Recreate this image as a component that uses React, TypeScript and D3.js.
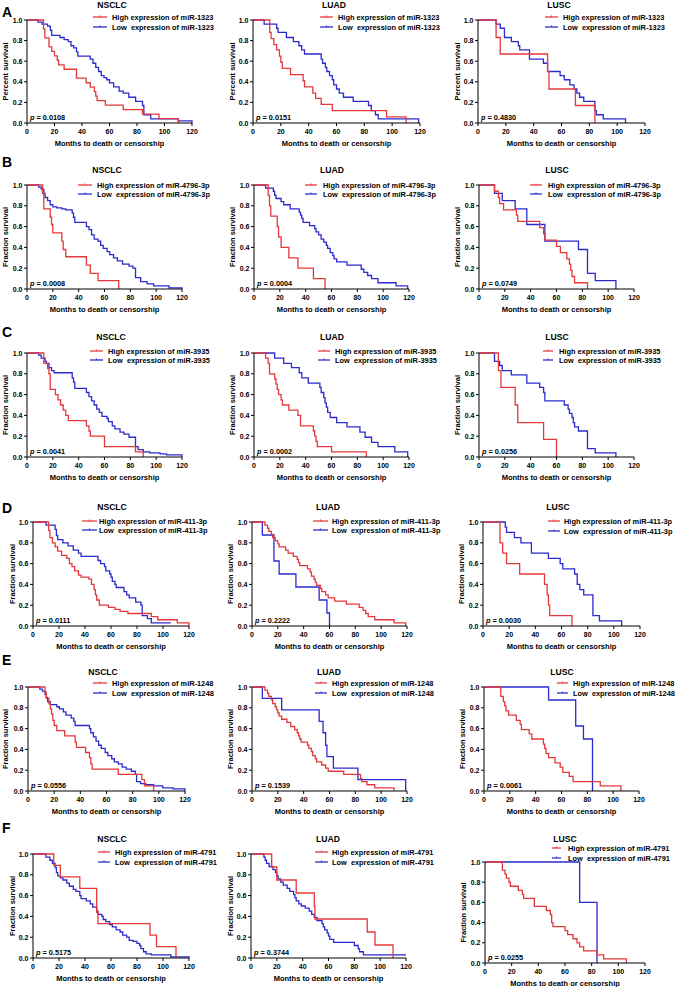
import React from 'react';
import * as d3 from 'd3';

type Pt = [number, number];

const cohorts = ['NSCLC', 'LUAD', 'LUSC'];
const rowLetters = ['A', 'B', 'C', 'D', 'E', 'F'];
const mirNames = ['miR-1323', 'miR-4796-3p', 'miR-3935', 'miR-411-3p', 'miR-1248', 'miR-4791'];
const pValues = [
  ['0.0108', '0.0151', '0.4830'],
  ['0.0008', '0.0004', '0.0749'],
  ['0.0041', '0.0002', '0.0256'],
  ['0.0111', '0.2222', '0.0030'],
  ['0.0556', '0.1539', '0.0061'],
  ['0.5175', '0.3744', '0.0255'],
];
const yAxisTitles = ['Percent survival', 'Fraction survival', 'Fraction survival', 'Fraction survival', 'Fraction survival', 'Fraction survival'];
const xAxisTitle = 'Months to death or censorship';
const xTicks = [0, 20, 40, 60, 80, 100, 120];
const yTicks = [0, 0.2, 0.4, 0.6, 0.8, 1.0];

// [month, survival after step]
const A_NSCLC_high: Pt[] = [[12,0.913],[13,0.826],[16,0.739],[18,0.696],[20,0.652],[22,0.609],[23,0.565],[27,0.522],[36,0.435],[43,0.391],[46,0.348],[49,0.304],[50,0.261],[51,0.217],[57,0.174],[70,0.13],[84,0.087],[96,0.043],[110,0]];
const A_NSCLC_low: Pt[] = [[8,0.98],[11,0.96],[15,0.94],[17,0.9],[18,0.85],[24,0.83],[27,0.81],[30,0.79],[32,0.75],[34,0.73],[36,0.69],[37,0.65],[46,0.62],[48,0.58],[50,0.54],[52,0.5],[54,0.46],[56,0.44],[58,0.42],[60,0.39],[63,0.35],[67,0.31],[70,0.29],[74,0.25],[79,0.21],[84,0.17],[85,0.08],[90,0.04],[110,0.02],[120,0]];
const A_LUAD_high: Pt[] = [[12,0.88],[13,0.82],[15,0.76],[17,0.71],[19,0.65],[20,0.59],[21,0.53],[27,0.47],[36,0.41],[37,0.35],[43,0.29],[45,0.24],[49,0.18],[57,0.12],[96,0.06],[110,0]];
const A_LUAD_low: Pt[] = [[8,0.96],[17,0.92],[18,0.88],[24,0.83],[29,0.79],[33,0.75],[35,0.71],[37,0.67],[49,0.62],[50,0.58],[52,0.54],[53,0.5],[55,0.46],[57,0.42],[58,0.37],[60,0.33],[62,0.29],[65,0.25],[72,0.21],[83,0.17],[85,0.12],[88,0.08],[90,0.04],[119,0]];
const A_LUSC_high: Pt[] = [[13,0.83],[16,0.67],[50,0.5],[51,0.33],[70,0.17],[84,0]];
const A_LUSC_low: Pt[] = [[13,0.96],[16,0.92],[19,0.83],[24,0.79],[29,0.75],[30,0.71],[37,0.62],[47,0.58],[50,0.5],[59,0.46],[62,0.42],[66,0.37],[69,0.33],[71,0.29],[73,0.25],[76,0.21],[84,0.12],[85,0.08],[90,0.04],[106,0]];

const B_NSCLC_high: Pt[] = [[12,0.92],[13,0.77],[18,0.69],[19,0.62],[20,0.54],[27,0.46],[28,0.38],[30,0.31],[46,0.23],[49,0.15],[55,0.08],[71,0]];
const B_NSCLC_low: Pt[] = [[9,0.98],[11,0.96],[13,0.92],[14,0.88],[16,0.85],[18,0.81],[20,0.79],[23,0.78],[27,0.77],[30,0.76],[35,0.73],[36,0.69],[37,0.64],[46,0.6],[48,0.57],[50,0.52],[52,0.48],[55,0.46],[57,0.42],[59,0.39],[62,0.36],[64,0.33],[67,0.3],[70,0.27],[74,0.24],[79,0.22],[82,0.2],[84,0.11],[88,0.07],[93,0.05],[98,0.03],[110,0.01],[120,0]];
const B_LUAD_high: Pt[] = [[11,0.9],[12,0.8],[13,0.7],[18,0.6],[19,0.5],[21,0.4],[27,0.3],[34,0.2],[46,0.1],[55,0]];
const B_LUAD_low: Pt[] = [[9,0.97],[15,0.94],[16,0.9],[17,0.87],[21,0.84],[23,0.81],[28,0.77],[35,0.74],[36,0.71],[37,0.68],[38,0.64],[43,0.61],[47,0.58],[48,0.55],[50,0.52],[52,0.48],[54,0.45],[56,0.42],[57,0.39],[59,0.35],[61,0.32],[62,0.29],[64,0.26],[72,0.23],[83,0.19],[85,0.16],[88,0.13],[91,0.1],[96,0.06],[110,0.03],[119,0]];
const B_LUSC_high: Pt[] = [[12,0.94],[15,0.88],[16,0.82],[19,0.76],[29,0.71],[30,0.65],[47,0.59],[50,0.53],[51,0.47],[60,0.41],[63,0.35],[68,0.29],[70,0.24],[71,0.18],[72,0.12],[74,0.06],[84,0]];
const B_LUSC_low: Pt[] = [[12,0.92],[18,0.85],[28,0.77],[37,0.62],[51,0.46],[77,0.38],[84,0.15],[90,0.08],[106,0]];

const C_NSCLC_high: Pt[] = [[13,0.9],[16,0.85],[17,0.8],[18,0.65],[22,0.6],[24,0.55],[26,0.5],[28,0.45],[30,0.4],[32,0.35],[46,0.3],[48,0.25],[49,0.2],[60,0.1],[84,0.05],[90,0]];
const C_NSCLC_low: Pt[] = [[9,0.98],[11,0.95],[14,0.92],[15,0.9],[17,0.86],[19,0.83],[21,0.81],[35,0.76],[36,0.72],[37,0.66],[46,0.62],[48,0.58],[50,0.54],[52,0.5],[54,0.46],[56,0.43],[58,0.39],[62,0.37],[63,0.34],[66,0.3],[68,0.27],[72,0.24],[75,0.22],[79,0.19],[84,0.1],[86,0.07],[90,0.05],[95,0.04],[103,0.03],[108,0.02],[120,0]];
const C_LUAD_high: Pt[] = [[9,0.95],[11,0.9],[12,0.8],[16,0.75],[17,0.7],[18,0.65],[19,0.6],[21,0.55],[22,0.5],[27,0.45],[34,0.4],[36,0.3],[46,0.25],[47,0.2],[48,0.15],[49,0.1],[60,0.05],[87,0]];
const C_LUAD_low: Pt[] = [[16,0.95],[23,0.9],[29,0.86],[35,0.81],[37,0.76],[42,0.71],[51,0.67],[52,0.62],[54,0.57],[55,0.52],[56,0.48],[57,0.43],[59,0.38],[64,0.33],[72,0.29],[82,0.24],[86,0.19],[91,0.14],[96,0.1],[109,0.05],[119,0]];
const C_LUSC_high: Pt[] = [[15,0.83],[17,0.67],[28,0.5],[30,0.33],[50,0.17],[60,0]];
const C_LUSC_low: Pt[] = [[12,0.92],[16,0.88],[18,0.83],[25,0.79],[37,0.71],[47,0.67],[50,0.62],[51,0.54],[66,0.5],[69,0.46],[70,0.42],[72,0.38],[73,0.33],[74,0.29],[77,0.25],[84,0.08],[90,0.04],[106,0]];

const D_NSCLC_high: Pt[] = [[12,0.92],[13,0.85],[15,0.8],[17,0.76],[19,0.72],[22,0.68],[26,0.65],[28,0.6],[30,0.57],[32,0.53],[35,0.49],[37,0.47],[43,0.45],[45,0.4],[47,0.35],[48,0.3],[49,0.25],[51,0.2],[58,0.18],[63,0.16],[67,0.14],[73,0.12],[91,0.09],[96,0.06],[111,0.03],[120,0]];
const D_NSCLC_low: Pt[] = [[10,0.97],[17,0.93],[18,0.87],[19,0.83],[23,0.8],[27,0.77],[31,0.73],[35,0.7],[37,0.67],[50,0.63],[52,0.6],[55,0.57],[56,0.53],[59,0.5],[60,0.47],[61,0.43],[63,0.4],[64,0.37],[70,0.33],[72,0.3],[74,0.27],[79,0.23],[83,0.2],[84,0.1],[88,0.07],[91,0.03],[106,0.03]];
const D_LUAD_high: Pt[] = [[10,0.97],[12,0.94],[13,0.91],[15,0.88],[16,0.85],[18,0.82],[20,0.79],[21,0.76],[26,0.73],[28,0.7],[32,0.67],[35,0.64],[36,0.61],[37,0.58],[43,0.55],[45,0.52],[46,0.48],[48,0.45],[49,0.42],[50,0.39],[53,0.36],[54,0.33],[57,0.3],[59,0.27],[64,0.24],[73,0.21],[83,0.18],[86,0.15],[88,0.12],[90,0.09],[95,0.06],[110,0.03],[119,0]];
const D_LUAD_low: Pt[] = [[8,0.875],[17,0.625],[21,0.5],[34,0.375],[52,0.25],[58,0.125],[60,0]];
const D_LUSC_high: Pt[] = [[13,0.8],[15,0.7],[18,0.6],[28,0.5],[47,0.4],[49,0.3],[50,0.2],[51,0.1],[68,0]];
const D_LUSC_low: Pt[] = [[17,0.95],[18,0.9],[24,0.85],[29,0.8],[37,0.7],[50,0.65],[59,0.6],[61,0.55],[70,0.5],[72,0.4],[74,0.35],[77,0.3],[84,0.1],[89,0.05],[106,0]];

const E_NSCLC_high: Pt[] = [[13,0.95],[14,0.89],[16,0.84],[17,0.79],[18,0.74],[19,0.68],[20,0.63],[22,0.58],[28,0.53],[36,0.47],[37,0.42],[44,0.37],[47,0.32],[48,0.26],[49,0.21],[69,0.16],[87,0.11],[89,0.05],[96,0]];
const E_NSCLC_low: Pt[] = [[9,0.98],[11,0.96],[13,0.93],[14,0.9],[15,0.86],[17,0.83],[22,0.81],[24,0.79],[27,0.76],[29,0.73],[33,0.7],[35,0.67],[36,0.63],[47,0.6],[48,0.56],[50,0.52],[52,0.48],[54,0.44],[56,0.41],[59,0.37],[61,0.34],[64,0.31],[66,0.28],[69,0.26],[72,0.23],[75,0.21],[79,0.19],[82,0.16],[83,0.09],[86,0.07],[90,0.06],[96,0.05],[103,0.03],[111,0.02],[120,0]];
const E_LUAD_high: Pt[] = [[10,0.97],[12,0.94],[13,0.91],[15,0.88],[16,0.84],[18,0.81],[19,0.78],[20,0.75],[21,0.72],[23,0.69],[27,0.66],[30,0.62],[33,0.59],[35,0.56],[36,0.53],[37,0.5],[38,0.47],[43,0.44],[44,0.41],[46,0.38],[47,0.34],[49,0.31],[50,0.28],[54,0.25],[57,0.22],[59,0.19],[71,0.16],[84,0.12],[85,0.09],[89,0.06],[95,0.03],[110,0]];
const E_LUAD_low: Pt[] = [[8,0.89],[23,0.78],[52,0.67],[55,0.56],[57,0.44],[58,0.33],[63,0.22],[82,0.11],[119,0]];
const E_LUSC_high: Pt[] = [[13,0.91],[15,0.86],[16,0.82],[17,0.77],[19,0.73],[25,0.68],[28,0.64],[29,0.59],[35,0.55],[37,0.5],[46,0.45],[47,0.41],[48,0.36],[50,0.32],[55,0.27],[59,0.23],[61,0.18],[66,0.14],[69,0.09],[90,0.05],[106,0]];
const E_LUSC_low: Pt[] = [[50,0.875],[71,0.625],[77,0.5],[84,0]];

const F_NSCLC_high: Pt[] = [[16,0.89],[21,0.78],[36,0.67],[49,0.44],[50,0.33],[90,0.22],[95,0.11],[110,0]];
const F_NSCLC_low: Pt[] = [[10,0.97],[13,0.94],[15,0.91],[17,0.87],[18,0.82],[19,0.79],[21,0.77],[23,0.75],[26,0.72],[28,0.69],[31,0.66],[33,0.64],[36,0.6],[37,0.57],[41,0.55],[44,0.52],[46,0.49],[49,0.45],[50,0.42],[53,0.4],[54,0.37],[56,0.35],[59,0.32],[61,0.3],[64,0.27],[67,0.25],[69,0.22],[72,0.2],[74,0.17],[77,0.16],[80,0.14],[82,0.12],[83,0.09],[85,0.06],[87,0.04],[91,0.03],[106,0.01],[120,0]];
const F_LUAD_high: Pt[] = [[16,0.875],[20,0.75],[35,0.625],[49,0.5],[49.5,0.375],[90,0.25],[96,0.125],[110,0]];
const F_LUAD_low: Pt[] = [[10,0.97],[11,0.94],[12,0.91],[14,0.88],[17,0.85],[19,0.82],[20,0.79],[21,0.76],[23,0.73],[25,0.7],[28,0.67],[30,0.64],[33,0.61],[34,0.58],[35,0.55],[37,0.52],[39,0.5],[42,0.48],[45,0.45],[47,0.42],[49,0.39],[51,0.36],[55,0.33],[56,0.3],[57,0.27],[59,0.24],[60,0.21],[61,0.18],[64,0.15],[80,0.12],[83,0.09],[84,0.06],[87,0.03],[120,0.03]];
const F_LUSC_high: Pt[] = [[13,0.92],[15,0.88],[16,0.84],[18,0.8],[19,0.76],[25,0.72],[28,0.68],[29,0.64],[37,0.56],[46,0.52],[49,0.48],[50,0.4],[51,0.36],[60,0.32],[62,0.28],[66,0.24],[69,0.2],[71,0.16],[74,0.12],[84,0.08],[89,0.04],[106,0]];
const F_LUSC_low: Pt[] = [[71,0.6],[84,0]];

const highSeries: Pt[][][] = [
  [A_NSCLC_high, A_LUAD_high, A_LUSC_high],
  [B_NSCLC_high, B_LUAD_high, B_LUSC_high],
  [C_NSCLC_high, C_LUAD_high, C_LUSC_high],
  [D_NSCLC_high, D_LUAD_high, D_LUSC_high],
  [E_NSCLC_high, E_LUAD_high, E_LUSC_high],
  [F_NSCLC_high, F_LUAD_high, F_LUSC_high],
];
const lowSeries: Pt[][][] = [
  [A_NSCLC_low, A_LUAD_low, A_LUSC_low],
  [B_NSCLC_low, B_LUAD_low, B_LUSC_low],
  [C_NSCLC_low, C_LUAD_low, C_LUSC_low],
  [D_NSCLC_low, D_LUAD_low, D_LUSC_low],
  [E_NSCLC_low, E_LUAD_low, E_LUSC_low],
  [F_NSCLC_low, F_LUAD_low, F_LUSC_low],
];

// ---- layout (pixel geometry, not data) ----
type Lay = { x0: number; x1: number; top: number; bot: number; tX: number; tY: number; leg: number[]; yl: number };
const L = (x0: number, x1: number, top: number, bot: number, tX: number, tY: number, leg: number[], yl: number): Lay => ({ x0, x1, top, bot, tX, tY, leg, yl });
const layout: Lay[][] = [
  [L(27, 192, 20, 123, 112, 8, [93, 107, 112, 17, 27], 5), L(253, 420, 20, 123, 334, 8, [320, 333, 338, 17, 27], 232), L(478, 645, 20, 123, 559, 8, [545, 558, 563, 17, 27], 457)],
  [L(27, 182, 185, 289, 107, 173, [78, 92, 97, 185, 194], 5), L(254, 409, 185, 289, 332, 173, [305, 317, 323, 185, 194], 232), L(479, 634, 185, 289, 557, 173, [530, 542, 548, 185, 194], 457)],
  [L(27, 182, 353, 457, 111, 340, [90, 103, 108, 351, 360], 5), L(254, 409, 353, 457, 332, 340, [318, 330, 335, 351, 360], 232), L(479, 634, 353, 457, 557, 340, [543, 553, 559, 351, 360], 457)],
  [L(33, 189, 522, 626, 112, 510, [82, 97, 99, 521, 530], 12), L(252, 407, 522, 626, 328, 510, [313, 328, 332, 521, 530], 230), L(483, 640, 522, 626, 558, 510, [548, 560, 564, 521, 531], 461)],
  [L(28, 185, 687, 791, 103, 675, [93, 107, 112, 683, 693], 5), L(252, 407, 687, 791, 329, 675, [315, 327, 332, 683, 693], 230), L(484, 639, 687, 791, 562, 675, [557, 568, 573, 683, 693], 462)],
  [L(33, 189, 854, 958, 112, 842, [98, 110, 115, 852, 862], 12), L(251, 406, 854, 958, 328, 842, [315, 328, 332, 852, 862], 230), L(485, 645, 862, 963, 565, 842, [552, 561, 568, 848, 858], 463)],
];
const letterY = [17, 167, 337, 513, 665, 833];

const RED = '#e5383b';
const BLUE = '#2b2bcf';
const FONT = "'Liberation Sans', Arial, Helvetica, sans-serif";

function Panel({ r, c }: { r: number; c: number }) {
  const g = layout[r][c];
  const x = d3.scaleLinear().domain([0, 120]).range([g.x0, g.x1]);
  const y = d3.scaleLinear().domain([0, 1]).range([g.bot, g.top]);
  const line = d3.line<Pt>().x(d => x(d[0])).y(d => y(d[1])).curve(d3.curveStepAfter);
  const hi: Pt[] = [[0, 1], ...highSeries[r][c]];
  const lo: Pt[] = [[0, 1], ...lowSeries[r][c]];
  const mir = mirNames[r];
  const ymid = (g.top + g.bot) / 2;
  const [lx0, lx1, tx, ly1, ly2] = g.leg;
  return (
    <g fontFamily={FONT} fontWeight="bold">
      <text x={g.tX} y={g.tY} fontSize={8.6} textAnchor="middle">{cohorts[c]}</text>
      <path d={line(lo) || ''} fill="none" stroke={BLUE} strokeWidth={1.3} />
      <path d={line(hi) || ''} fill="none" stroke={RED} strokeWidth={1.3} />
      <line x1={g.x0} x2={g.x1} y1={g.bot} y2={g.bot} stroke="#000" strokeWidth={1} />
      <line x1={g.x0} x2={g.x0} y1={g.bot} y2={g.top} stroke="#000" strokeWidth={1} />
      {xTicks.map(t => (
        <g key={'x' + t}>
          <line x1={x(t)} x2={x(t)} y1={g.bot} y2={g.bot + 3} stroke="#000" strokeWidth={1} />
          <text x={x(t)} y={g.bot + 10.5} fontSize={7} textAnchor="middle">{t}</text>
        </g>
      ))}
      {yTicks.map(t => (
        <g key={'y' + t}>
          <line x1={g.x0 - 3} x2={g.x0} y1={y(t)} y2={y(t)} stroke="#000" strokeWidth={1} />
          <text x={g.x0 - 4.5} y={y(t) + 2.5} fontSize={7} textAnchor="end">{t.toFixed(1)}</text>
        </g>
      ))}
      <text x={(g.x0 + g.x1) / 2} y={g.bot + 22.5} fontSize={7.5} textAnchor="middle">{xAxisTitle}</text>
      <text transform={`translate(${g.yl},${ymid}) rotate(-90)`} fontSize={7.5} textAnchor="middle" dominantBaseline="central">{yAxisTitles[r]}</text>
      <text x={g.x0 + 3} y={g.bot - 3} fontSize={7.3}>
        <tspan fontStyle="italic">p</tspan> = {pValues[r][c]}
      </text>
      <line x1={lx0} x2={lx1} y1={ly1} y2={ly1} stroke={RED} strokeWidth={1.3} />
      <line x1={(lx0 + lx1) / 2} x2={(lx0 + lx1) / 2} y1={ly1 - 1.5} y2={ly1} stroke={RED} strokeWidth={1} />
      <text x={tx} y={ly1 + 2.6} fontSize={7.4}>{`High expression of ${mir}`}</text>
      <line x1={lx0} x2={lx1} y1={ly2} y2={ly2} stroke={BLUE} strokeWidth={1.3} />
      <line x1={(lx0 + lx1) / 2} x2={(lx0 + lx1) / 2} y1={ly2 - 1.5} y2={ly2} stroke={BLUE} strokeWidth={1} />
      <text x={tx} y={ly2 + 2.6} fontSize={7.4} style={{ whiteSpace: 'pre' }}>{`Low  expression of ${mir}`}</text>
    </g>
  );
}

export default function App() {
  return (
    <svg width={679} height={987} style={{ position: 'absolute', left: 0, top: 0, background: '#fff' }}>
      <rect x={0} y={0} width={679} height={987} fill="#fff" />
      {rowLetters.map((lt, r) => (
        <text key={lt} x={2} y={letterY[r]} fontFamily={FONT} fontWeight="bold" fontSize={14}>{lt}</text>
      ))}
      {rowLetters.map((_, r) => [0, 1, 2].map(c => <Panel key={`${r}-${c}`} r={r} c={c} />))}
    </svg>
  );
}
